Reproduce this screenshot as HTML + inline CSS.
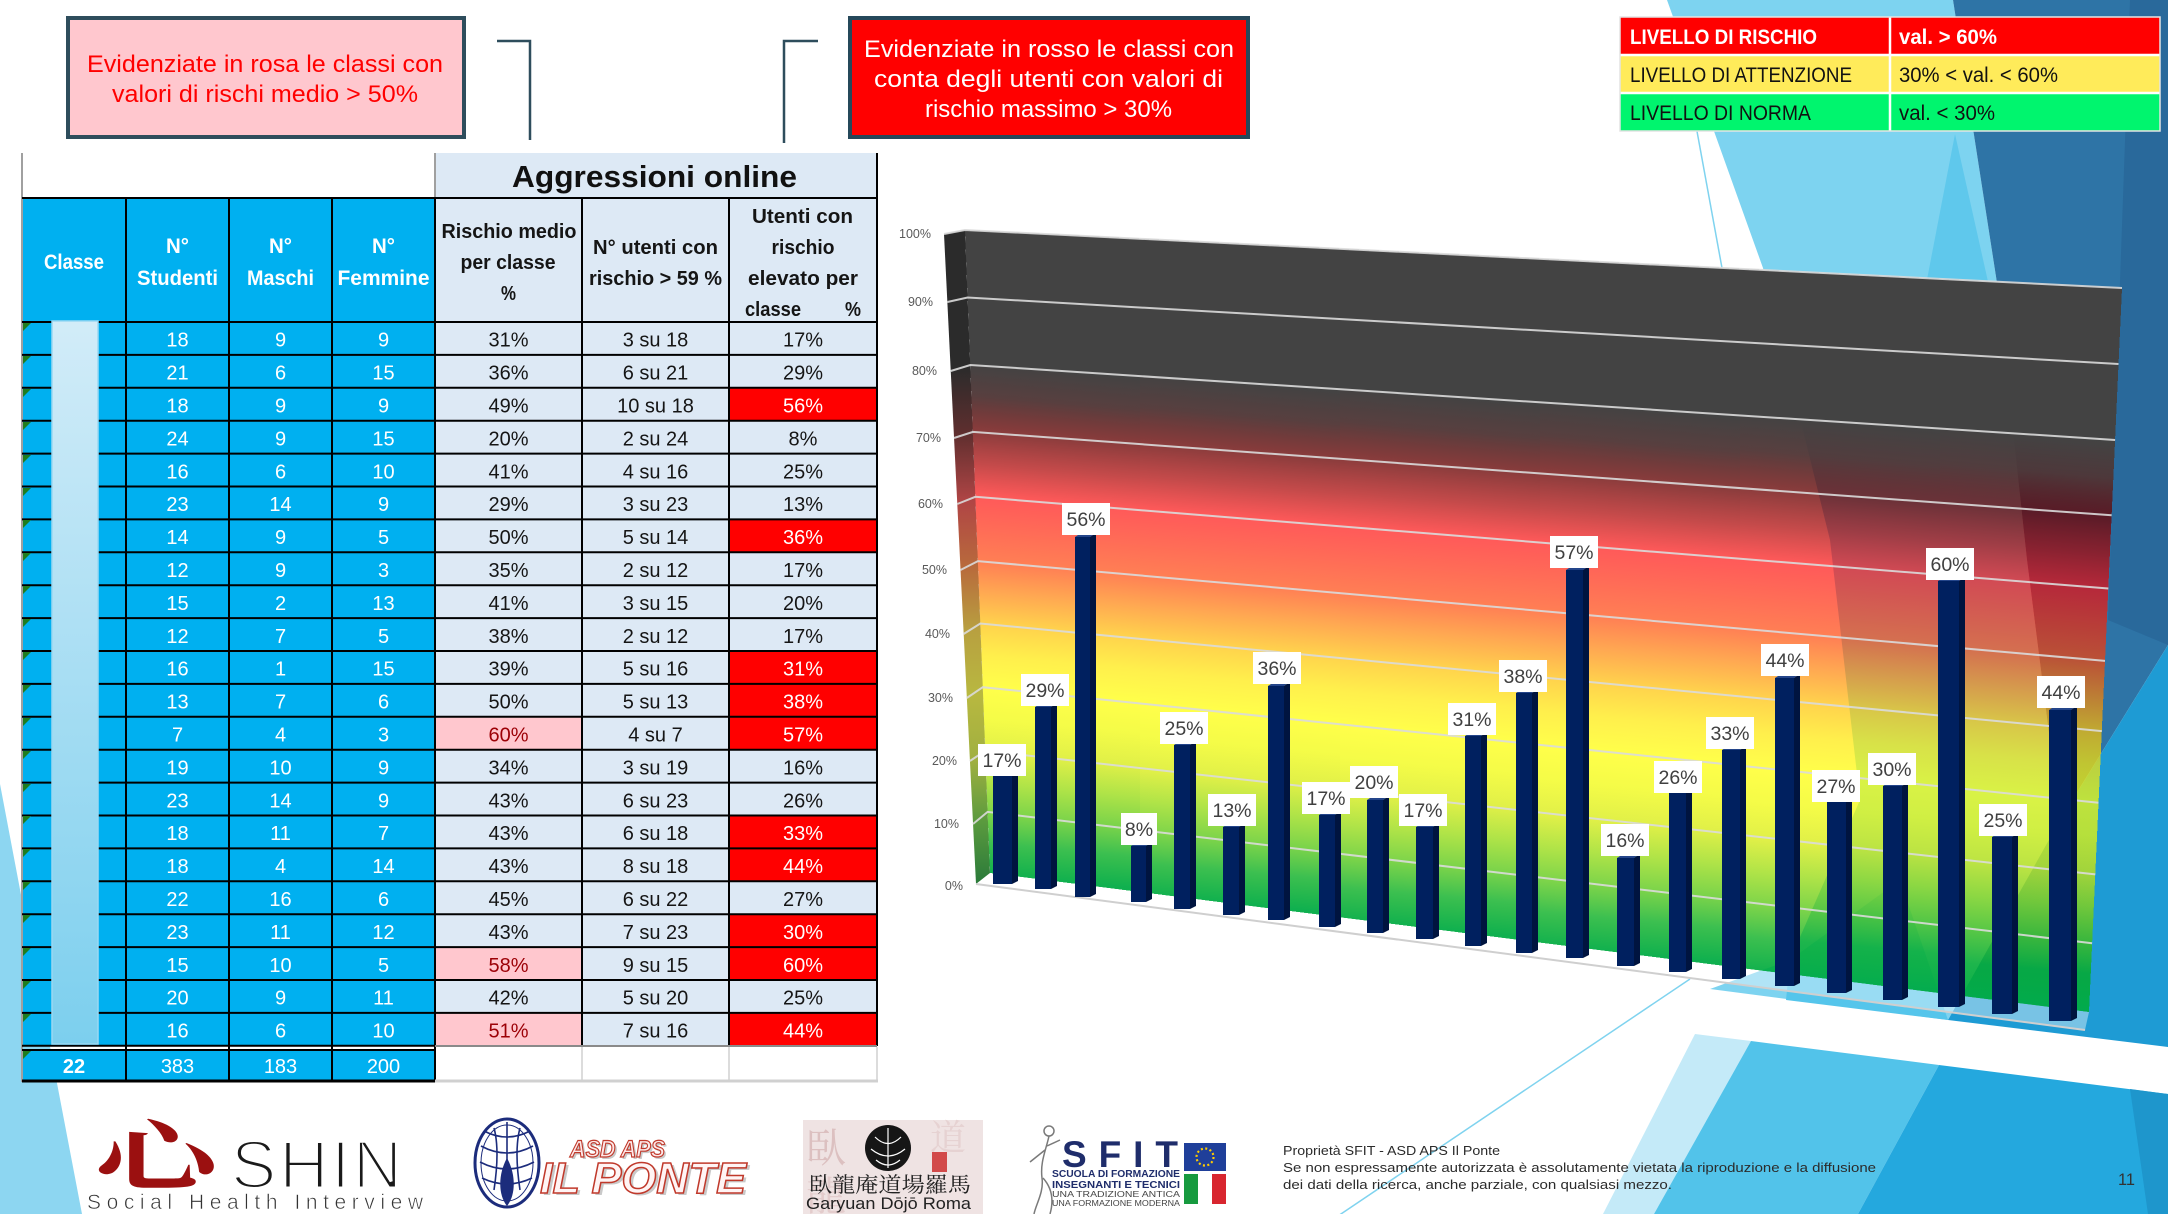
<!DOCTYPE html>
<html><head><meta charset="utf-8">
<style>
html,body{margin:0;padding:0;background:#fff;}
body{width:2168px;height:1214px;overflow:hidden;position:relative;}
svg{position:absolute;left:0;top:0;}
text{font-family:"Liberation Sans",Arial,sans-serif;}
.cjk{font-family:"Liberation Serif","Noto Serif CJK SC","Noto Sans CJK SC",serif;}
</style></head><body>
<svg width="2168" height="1214" viewBox="0 0 2168 1214">
<defs>
<linearGradient id="gw">
 <stop offset="0" stop-color="#434343" stop-opacity="1"/>
 <stop offset="0.21" stop-color="#434343" stop-opacity="1"/>
 <stop offset="0.26" stop-color="#4f3535" stop-opacity="0.95"/>
 <stop offset="0.314" stop-color="#660000" stop-opacity="0.765"/>
 <stop offset="0.365" stop-color="#ac0000" stop-opacity="0.71"/>
 <stop offset="0.415" stop-color="#ff0000" stop-opacity="0.65"/>
 <stop offset="0.465" stop-color="#ff2000" stop-opacity="0.66"/>
 <stop offset="0.515" stop-color="#ff4000" stop-opacity="0.67"/>
 <stop offset="0.563" stop-color="#ff8000" stop-opacity="0.68"/>
 <stop offset="0.612" stop-color="#ffc000" stop-opacity="0.7"/>
 <stop offset="0.66" stop-color="#ffe800" stop-opacity="0.7"/>
 <stop offset="0.711" stop-color="#ffff00" stop-opacity="0.71"/>
 <stop offset="0.76" stop-color="#f0fa00" stop-opacity="0.72"/>
 <stop offset="0.81" stop-color="#d4ea00" stop-opacity="0.72"/>
 <stop offset="0.857" stop-color="#91d900" stop-opacity="0.72"/>
 <stop offset="0.905" stop-color="#46c200" stop-opacity="0.71"/>
 <stop offset="0.95" stop-color="#00ac1a" stop-opacity="0.765"/>
 <stop offset="1" stop-color="#00ab44" stop-opacity="0.94"/>
</linearGradient>
<linearGradient id="w1" href="#gw" gradientUnits="userSpaceOnUse" x1="1060" y1="234.8" x2="1004.8" y2="877.1"/>
<linearGradient id="w2" href="#gw" gradientUnits="userSpaceOnUse" x1="1240" y1="243.8" x2="1183.6" y2="899.7"/>
<linearGradient id="w3" href="#gw" gradientUnits="userSpaceOnUse" x1="1440" y1="253.8" x2="1382.3" y2="924.9"/>
<linearGradient id="w4" href="#gw" gradientUnits="userSpaceOnUse" x1="1640" y1="263.8" x2="1581" y2="950.1"/>
<linearGradient id="w5" href="#gw" gradientUnits="userSpaceOnUse" x1="1840" y1="273.8" x2="1779.7" y2="975.3"/>
<linearGradient id="w6" href="#gw" gradientUnits="userSpaceOnUse" x1="2030" y1="283.4" x2="1968.4" y2="999.3"/>
<linearGradient id="gs" x1="0" y1="0" x2="0" y2="1">
 <stop offset="0" stop-color="#2b2b2b"/>
 <stop offset="0.21" stop-color="#2b2b2b"/>
 <stop offset="0.31" stop-color="#5e2e2e"/>
 <stop offset="0.415" stop-color="#b04545"/>
 <stop offset="0.515" stop-color="#b86a3c"/>
 <stop offset="0.612" stop-color="#b8a040"/>
 <stop offset="0.711" stop-color="#b8b840"/>
 <stop offset="0.81" stop-color="#a0b040"/>
 <stop offset="0.905" stop-color="#5a9a3e"/>
 <stop offset="1" stop-color="#2a7a3a"/>
</linearGradient>
<linearGradient id="gc" x1="0" y1="0" x2="0" y2="1">
 <stop offset="0" stop-color="#d2ecf8"/>
 <stop offset="1" stop-color="#7ccfee"/>
</linearGradient>
</defs>

<!-- background decoration -->
<polygon points="0,784 22,900 82,1214 0,1214" fill="#8dd6f1"/>
<polygon points="1667,0 1953,0 1997,283 2027,560 2060,820 1948,1020 1710,989 1790,960 1860,800 1830,540 1763,268" fill="#7dd3f0"/>
<polygon points="1955,134 2010,380 1900,420" fill="#5fc8ec"/>
<polygon points="1953,0 2168,0 2168,645 2060,820 2027,560 1997,283" fill="#2e74a6"/>
<polygon points="2130,0 2168,0 2168,645 2108,620" fill="#29699b"/>
<polygon points="2168,645 2168,1047 1948,1020 2060,820" fill="#1e9bd4"/>
<polygon points="1790,960 1900,880 1948,1020 1786,1000" fill="#55c5eb"/>
<polygon points="1695,1034 1751,1041 1654,1214 1603,1214" fill="#c4eaf8"/>
<polygon points="1751,1041 1939,1065 1858,1214 1654,1214" fill="#52c3ea"/>
<polygon points="1939,1065 2168,1094 2168,1214 1858,1214" fill="#24a8de"/>
<polygon points="2130,1089 2168,1094 2168,1214 2148,1214" fill="#1e96cc"/>
<line x1="1673" y1="0" x2="1722" y2="268" stroke="#7fd3ef" stroke-width="1.5"/>
<line x1="1690" y1="979" x2="1335" y2="1218" stroke="#7fd3ef" stroke-width="1.5"/>

<!-- chart wall -->
<g shape-rendering="crispEdges">
<polygon points="965,230 1140,238.8 1140,892 990,873" fill="url(#w1)"/>
<polygon points="1140,238.8 1340,248.8 1340,917.3 1140,892" fill="url(#w2)"/>
<polygon points="1340,248.8 1540,258.8 1540,942.6 1340,917.3" fill="url(#w3)"/>
<polygon points="1540,258.8 1740,268.8 1740,967.9 1540,942.6" fill="url(#w4)"/>
<polygon points="1740,268.8 1940,278.8 1940,993.2 1740,967.9" fill="url(#w5)"/>
<polygon points="1940,278.8 2122,288 2089,1012 1940,993.2" fill="url(#w6)"/>
</g>
<polygon points="944,234 965,230 990,873 976,884" fill="url(#gs)"/>
<!-- floor -->
<polygon points="976,884 990,873 2089,1012 2085,1030" fill="#ffffff" fill-opacity="0.4"/>
<line x1="976" y1="884" x2="2085" y2="1030" stroke="#cfcfcf" stroke-width="2"/>
<!-- gridlines -->
<g fill="none" stroke="#dadada" stroke-width="2" stroke-opacity="0.9">
<polyline points="944,234 965,230 2122,288"/>
<polyline points="947.4,302 967.6,297.5 2118.5,364"/>
<polyline points="950.7,371 970.3,365 2115.1,440"/>
<polyline points="954,438 972.9,431.9 2111.6,515.3"/>
<polyline points="957.3,504 975.4,496.8 2108.3,588.5"/>
<polyline points="960.5,570 977.9,561.1 2105,660.9"/>
<polyline points="963.6,634 980.3,623.5 2101.8,731.1"/>
<polyline points="966.8,698 982.8,687.2 2098.5,802.8"/>
<polyline points="969.9,761 985.3,750.8 2095.3,874.4"/>
<polyline points="973,824 987.6,811.9 2092.1,943.2"/>
</g>
<!-- y axis labels -->
<g font-size="12.5" fill="#595959" text-anchor="end">
<text x="931" y="238">100%</text>
<text x="933" y="306">90%</text>
<text x="937" y="375">80%</text>
<text x="941" y="442">70%</text>
<text x="943" y="508">60%</text>
<text x="947" y="574">50%</text>
<text x="950" y="638">40%</text>
<text x="953" y="702">30%</text>
<text x="957" y="765">20%</text>
<text x="959" y="828">10%</text>
<text x="963" y="890">0%</text>
</g>

<!-- bars -->
<g>
<rect x="993" y="776" width="19" height="108" fill="#00205f"/><polygon points="1012,776 1018,772 1018,881 1012,884" fill="#00143f"/><polygon points="993,776 999,772 1018,772 1012,776" fill="#24458a"/>
<rect x="1035" y="707" width="16" height="182" fill="#00205f"/><polygon points="1051,707 1057,703 1057,886 1051,889" fill="#00143f"/><polygon points="1035,707 1041,703 1057,703 1051,707" fill="#24458a"/>
<rect x="1075" y="537" width="15" height="360" fill="#00205f"/><polygon points="1090,537 1096,533 1096,894 1090,897" fill="#00143f"/><polygon points="1075,537 1081,533 1096,533 1090,537" fill="#24458a"/>
<rect x="1131" y="846" width="15" height="56" fill="#00205f"/><polygon points="1146,846 1152,842 1152,899 1146,902" fill="#00143f"/><polygon points="1131,846 1137,842 1152,842 1146,846" fill="#24458a"/>
<rect x="1174" y="745" width="16" height="164" fill="#00205f"/><polygon points="1190,745 1196,741 1196,906 1190,909" fill="#00143f"/><polygon points="1174,745 1180,741 1196,741 1190,745" fill="#24458a"/>
<rect x="1223" y="827" width="16" height="88" fill="#00205f"/><polygon points="1239,827 1245,823 1245,912 1239,915" fill="#00143f"/><polygon points="1223,827 1229,823 1245,823 1239,827" fill="#24458a"/>
<rect x="1268" y="686" width="16" height="234" fill="#00205f"/><polygon points="1284,686 1290,682 1290,917 1284,920" fill="#00143f"/><polygon points="1268,686 1274,682 1290,682 1284,686" fill="#24458a"/>
<rect x="1319" y="815" width="16" height="112" fill="#00205f"/><polygon points="1335,815 1341,811 1341,924 1335,927" fill="#00143f"/><polygon points="1319,815 1325,811 1341,811 1335,815" fill="#24458a"/>
<rect x="1367" y="800" width="16" height="133" fill="#00205f"/><polygon points="1383,800 1389,796 1389,930 1383,933" fill="#00143f"/><polygon points="1367,800 1373,796 1389,796 1383,800" fill="#24458a"/>
<rect x="1416" y="827" width="17" height="112" fill="#00205f"/><polygon points="1433,827 1439,823 1439,936 1433,939" fill="#00143f"/><polygon points="1416,827 1422,823 1439,823 1433,827" fill="#24458a"/>
<rect x="1465" y="736" width="16" height="210" fill="#00205f"/><polygon points="1481,736 1487,732 1487,943 1481,946" fill="#00143f"/><polygon points="1465,736 1471,732 1487,732 1481,736" fill="#24458a"/>
<rect x="1516" y="693" width="16" height="260" fill="#00205f"/><polygon points="1532,693 1538,689 1538,950 1532,953" fill="#00143f"/><polygon points="1516,693 1522,689 1538,689 1532,693" fill="#24458a"/>
<rect x="1566" y="570" width="17" height="388" fill="#00205f"/><polygon points="1583,570 1589,566 1589,955 1583,958" fill="#00143f"/><polygon points="1566,570 1572,566 1589,566 1583,570" fill="#24458a"/>
<rect x="1617" y="858" width="17" height="108" fill="#00205f"/><polygon points="1634,858 1640,854 1640,963 1634,966" fill="#00143f"/><polygon points="1617,858 1623,854 1640,854 1634,858" fill="#24458a"/>
<rect x="1669" y="793" width="17" height="179" fill="#00205f"/><polygon points="1686,793 1692,789 1692,969 1686,972" fill="#00143f"/><polygon points="1669,793 1675,789 1692,789 1686,793" fill="#24458a"/>
<rect x="1722" y="750" width="18" height="229" fill="#00205f"/><polygon points="1740,750 1746,746 1746,976 1740,979" fill="#00143f"/><polygon points="1722,750 1728,746 1746,746 1740,750" fill="#24458a"/>
<rect x="1775" y="678" width="19" height="308" fill="#00205f"/><polygon points="1794,678 1800,674 1800,983 1794,986" fill="#00143f"/><polygon points="1775,678 1781,674 1800,674 1794,678" fill="#24458a"/>
<rect x="1827" y="802" width="19" height="191" fill="#00205f"/><polygon points="1846,802 1852,798 1852,990 1846,993" fill="#00143f"/><polygon points="1827,802 1833,798 1852,798 1846,802" fill="#24458a"/>
<rect x="1883" y="786" width="19" height="214" fill="#00205f"/><polygon points="1902,786 1908,782 1908,997 1902,1000" fill="#00143f"/><polygon points="1883,786 1889,782 1908,782 1902,786" fill="#24458a"/>
<rect x="1938" y="581" width="21" height="426" fill="#00205f"/><polygon points="1959,581 1965,577 1965,1004 1959,1007" fill="#00143f"/><polygon points="1938,581 1944,577 1965,577 1959,581" fill="#24458a"/>
<rect x="1992" y="837" width="20" height="177" fill="#00205f"/><polygon points="2012,837 2018,833 2018,1011 2012,1014" fill="#00143f"/><polygon points="1992,837 1998,833 2018,833 2012,837" fill="#24458a"/>
<rect x="2049" y="710" width="22" height="311" fill="#00205f"/><polygon points="2071,710 2077,706 2077,1018 2071,1021" fill="#00143f"/><polygon points="2049,710 2055,706 2077,706 2071,710" fill="#24458a"/>
</g>

<!-- data labels -->
<g fill="#ffffff">
<rect x="978" y="744" width="48" height="32"/>
<rect x="1021" y="674" width="48" height="32"/>
<rect x="1062" y="503" width="48" height="32"/>
<rect x="1121" y="813" width="36" height="32"/>
<rect x="1160" y="712" width="48" height="32"/>
<rect x="1208" y="794" width="48" height="32"/>
<rect x="1253" y="652" width="48" height="32"/>
<rect x="1302" y="782" width="48" height="32"/>
<rect x="1350" y="766" width="48" height="32"/>
<rect x="1399" y="794" width="48" height="32"/>
<rect x="1448" y="703" width="48" height="32"/>
<rect x="1499" y="660" width="48" height="32"/>
<rect x="1550" y="536" width="48" height="32"/>
<rect x="1601" y="824" width="48" height="32"/>
<rect x="1654" y="761" width="48" height="32"/>
<rect x="1706" y="717" width="48" height="32"/>
<rect x="1761" y="644" width="48" height="32"/>
<rect x="1812" y="770" width="48" height="32"/>
<rect x="1868" y="753" width="48" height="32"/>
<rect x="1926" y="548" width="48" height="32"/>
<rect x="1979" y="804" width="48" height="32"/>
<rect x="2037" y="676" width="48" height="32"/>
</g>
<g font-size="19.5" fill="#404040" text-anchor="middle">
<text x="1002" y="767">17%</text>
<text x="1045" y="697">29%</text>
<text x="1086" y="526">56%</text>
<text x="1139" y="836">8%</text>
<text x="1184" y="735">25%</text>
<text x="1232" y="817">13%</text>
<text x="1277" y="675">36%</text>
<text x="1326" y="805">17%</text>
<text x="1374" y="789">20%</text>
<text x="1423" y="817">17%</text>
<text x="1472" y="726">31%</text>
<text x="1523" y="683">38%</text>
<text x="1574" y="559">57%</text>
<text x="1625" y="847">16%</text>
<text x="1678" y="784">26%</text>
<text x="1730" y="740">33%</text>
<text x="1785" y="667">44%</text>
<text x="1836" y="793">27%</text>
<text x="1892" y="776">30%</text>
<text x="1950" y="571">60%</text>
<text x="2003" y="827">25%</text>
<text x="2061" y="699">44%</text>
</g>

<!-- top boxes -->
<rect x="68" y="18" width="396" height="119" fill="#ffc7ce" stroke="#2e4d5c" stroke-width="4"/>
<text x="87" y="72" font-size="24" fill="#ff0000" textLength="356" lengthAdjust="spacingAndGlyphs">Evidenziate in rosa le classi con</text>
<text x="112" y="102" font-size="24" fill="#ff0000" textLength="306" lengthAdjust="spacingAndGlyphs">valori di rischi medio &gt; 50%</text>
<polyline points="497,41 530,41 530,140" fill="none" stroke="#2e4d5c" stroke-width="2.5"/>
<polyline points="818,41 784,41 784,143" fill="none" stroke="#2e4d5c" stroke-width="2.5"/>
<rect x="850" y="18" width="398" height="119" fill="#ff0000" stroke="#25485a" stroke-width="4"/>
<text x="864" y="57" font-size="24" fill="#ffffff" textLength="370" lengthAdjust="spacingAndGlyphs">Evidenziate in rosso le classi con</text>
<text x="874" y="87" font-size="24" fill="#ffffff" textLength="349" lengthAdjust="spacingAndGlyphs">conta degli utenti con valori di</text>
<text x="925" y="117" font-size="24" fill="#ffffff" textLength="247" lengthAdjust="spacingAndGlyphs">rischio massimo &gt; 30%</text>

<!-- legend -->
<rect x="1620" y="17" width="540" height="38" fill="#ff0000"/>
<rect x="1620" y="55" width="540" height="38" fill="#ffeb5a"/>
<rect x="1620" y="93" width="540" height="38" fill="#00f56e"/>
<g stroke="#ffffff" stroke-width="2.5">
<line x1="1620" y1="55" x2="2160" y2="55"/>
<line x1="1620" y1="93" x2="2160" y2="93"/>
<line x1="1890" y1="17" x2="1890" y2="131"/>
</g>
<rect x="1620" y="17" width="540" height="114" fill="none" stroke="#e4e4e4" stroke-width="1.5"/>
<g font-size="21">
<text x="1630" y="44" fill="#ffffff" font-weight="bold" textLength="187" lengthAdjust="spacingAndGlyphs">LIVELLO DI RISCHIO</text>
<text x="1899" y="44" fill="#ffffff" font-weight="bold" textLength="98" lengthAdjust="spacingAndGlyphs">val. &gt; 60%</text>
<text x="1630" y="82" fill="#111" textLength="222" lengthAdjust="spacingAndGlyphs">LIVELLO DI ATTENZIONE</text>
<text x="1899" y="82" fill="#111" textLength="159" lengthAdjust="spacingAndGlyphs">30% &lt; val. &lt; 60%</text>
<text x="1630" y="120" fill="#111" textLength="181" lengthAdjust="spacingAndGlyphs">LIVELLO DI NORMA</text>
<text x="1899" y="120" fill="#111" textLength="96" lengthAdjust="spacingAndGlyphs">val. &lt; 30%</text>
</g>

<!-- TABLE -->
<rect x="435" y="153" width="442" height="45" fill="#dde9f5"/>
<rect x="22" y="198" width="413" height="848" fill="#00b0f0"/>
<rect x="435" y="198" width="442" height="848" fill="#dde9f5"/>
<rect x="22" y="1049" width="413" height="32" fill="#00b0f0"/>
<!-- red cells -->
<g fill="#ff0000">
<rect x="729" y="387.8" width="148" height="32.9"/>
<rect x="729" y="519.4" width="148" height="32.9"/>
<rect x="729" y="651" width="148" height="65.8"/>
<rect x="729" y="716.8" width="148" height="32.9"/>
<rect x="729" y="815.5" width="148" height="65.8"/>
<rect x="729" y="914.2" width="148" height="65.8"/>
<rect x="729" y="1012.9" width="148" height="32.9"/>
</g>
<g fill="#ffc7ce">
<rect x="435" y="716.8" width="147" height="32.9"/>
<rect x="435" y="947.1" width="147" height="32.9"/>
<rect x="435" y="1012.9" width="147" height="32.9"/>
</g>
<!-- grid lines -->
<line x1="22" y1="153" x2="22" y2="1082" stroke="#a0a0a0" stroke-width="2"/>
<line x1="435" y1="153" x2="435" y2="198" stroke="#a0a0a0" stroke-width="2"/>
<g stroke="#000" stroke-width="2">
<line x1="22" y1="198" x2="877" y2="198"/>
<line x1="22" y1="322" x2="877" y2="322"/>
<line x1="22" y1="354.9" x2="877" y2="354.9"/>
<line x1="22" y1="387.8" x2="877" y2="387.8"/>
<line x1="22" y1="420.7" x2="877" y2="420.7"/>
<line x1="22" y1="453.6" x2="877" y2="453.6"/>
<line x1="22" y1="486.5" x2="877" y2="486.5"/>
<line x1="22" y1="519.4" x2="877" y2="519.4"/>
<line x1="22" y1="552.3" x2="877" y2="552.3"/>
<line x1="22" y1="585.2" x2="877" y2="585.2"/>
<line x1="22" y1="618.1" x2="877" y2="618.1"/>
<line x1="22" y1="651" x2="877" y2="651"/>
<line x1="22" y1="683.9" x2="877" y2="683.9"/>
<line x1="22" y1="716.8" x2="877" y2="716.8"/>
<line x1="22" y1="749.7" x2="877" y2="749.7"/>
<line x1="22" y1="782.6" x2="877" y2="782.6"/>
<line x1="22" y1="815.5" x2="877" y2="815.5"/>
<line x1="22" y1="848.4" x2="877" y2="848.4"/>
<line x1="22" y1="881.3" x2="877" y2="881.3"/>
<line x1="22" y1="914.2" x2="877" y2="914.2"/>
<line x1="22" y1="947.1" x2="877" y2="947.1"/>
<line x1="22" y1="980" x2="877" y2="980"/>
<line x1="22" y1="1012.9" x2="877" y2="1012.9"/>
<line x1="22" y1="1045.8" x2="435" y2="1045.8"/>
<line x1="22" y1="1050" x2="435" y2="1050"/>
<line x1="126" y1="198" x2="126" y2="1081"/>
<line x1="229" y1="198" x2="229" y2="1081"/>
<line x1="332" y1="198" x2="332" y2="1081"/>
<line x1="435" y1="198" x2="435" y2="1081"/>
<line x1="582" y1="198" x2="582" y2="1046"/>
<line x1="729" y1="198" x2="729" y2="1046"/>
<line x1="877" y1="153" x2="877" y2="1046"/>
</g>
<line x1="435" y1="1046" x2="877" y2="1046" stroke="#8a8a8a" stroke-width="2"/>
<g stroke="#d0d0d0" stroke-width="1.5">
<line x1="582" y1="1047" x2="582" y2="1081"/>
<line x1="729" y1="1047" x2="729" y2="1081"/>
<line x1="877" y1="1047" x2="877" y2="1081"/>
</g>
<line x1="435" y1="1081" x2="878" y2="1081" stroke="#d0d0d0" stroke-width="3"/>
<line x1="22" y1="1081" x2="435" y2="1081" stroke="#000" stroke-width="3"/>
<!-- classe bar -->
<rect x="52" y="321" width="46" height="723" fill="url(#gc)" stroke="#9ad8f2" stroke-width="1.5"/>
<!-- green triangles -->
<g fill="#1f7d1f">
<polygon points="23,323 31,323 23,331"/><polygon points="23,356 31,356 23,364"/><polygon points="23,389 31,389 23,397"/><polygon points="23,422 31,422 23,430"/><polygon points="23,455 31,455 23,463"/><polygon points="23,488 31,488 23,496"/><polygon points="23,520 31,520 23,528"/><polygon points="23,553 31,553 23,561"/><polygon points="23,586 31,586 23,594"/><polygon points="23,619 31,619 23,627"/><polygon points="23,652 31,652 23,660"/><polygon points="23,685 31,685 23,693"/><polygon points="23,718 31,718 23,726"/><polygon points="23,751 31,751 23,759"/><polygon points="23,784 31,784 23,792"/><polygon points="23,816 31,816 23,824"/><polygon points="23,849 31,849 23,857"/><polygon points="23,882 31,882 23,890"/><polygon points="23,915 31,915 23,923"/><polygon points="23,948 31,948 23,956"/><polygon points="23,981 31,981 23,989"/><polygon points="23,1014 31,1014 23,1022"/><polygon points="23,1051 31,1051 23,1059"/>
</g>
<!-- header texts -->
<text x="512" y="187" font-size="31" font-weight="bold" fill="#111" textLength="285" lengthAdjust="spacingAndGlyphs">Aggressioni online</text>
<g font-size="21" font-weight="bold" fill="#ffffff" text-anchor="middle">
<text x="74" y="269" textLength="60" lengthAdjust="spacingAndGlyphs">Classe</text>
<text x="177.5" y="253" textLength="23" lengthAdjust="spacingAndGlyphs">N°</text>
<text x="177.5" y="285" textLength="81" lengthAdjust="spacingAndGlyphs">Studenti</text>
<text x="280.5" y="253" textLength="23" lengthAdjust="spacingAndGlyphs">N°</text>
<text x="280.5" y="285" textLength="67" lengthAdjust="spacingAndGlyphs">Maschi</text>
<text x="383.5" y="253" textLength="23" lengthAdjust="spacingAndGlyphs">N°</text>
<text x="383.5" y="285" textLength="92" lengthAdjust="spacingAndGlyphs">Femmine</text>
</g>
<g font-size="20" font-weight="bold" fill="#151515" text-anchor="middle">
<text x="509" y="238" textLength="135" lengthAdjust="spacingAndGlyphs">Rischio medio</text>
<text x="508" y="269" textLength="95" lengthAdjust="spacingAndGlyphs">per classe</text>
<text x="508.5" y="300" textLength="15" lengthAdjust="spacingAndGlyphs">%</text>
<text x="655.5" y="254" textLength="125" lengthAdjust="spacingAndGlyphs">N° utenti con</text>
<text x="655.5" y="285" textLength="133" lengthAdjust="spacingAndGlyphs">rischio &gt; 59 %</text>
<text x="802.5" y="223" textLength="101" lengthAdjust="spacingAndGlyphs">Utenti con</text>
<text x="803" y="254" textLength="63" lengthAdjust="spacingAndGlyphs">rischio</text>
<text x="803" y="285" textLength="110" lengthAdjust="spacingAndGlyphs">elevato per</text>
<text x="773" y="316" textLength="56" lengthAdjust="spacingAndGlyphs">classe</text>
<text x="853" y="316" textLength="16" lengthAdjust="spacingAndGlyphs">%</text>
</g>
<!-- data texts: blue columns -->
<g font-size="20" fill="#ffffff" text-anchor="middle">
<text x="177.5" y="346.7">18</text><text x="280.5" y="346.7">9</text><text x="383.5" y="346.7">9</text>
<text x="177.5" y="379.6">21</text><text x="280.5" y="379.6">6</text><text x="383.5" y="379.6">15</text>
<text x="177.5" y="412.5">18</text><text x="280.5" y="412.5">9</text><text x="383.5" y="412.5">9</text>
<text x="177.5" y="445.4">24</text><text x="280.5" y="445.4">9</text><text x="383.5" y="445.4">15</text>
<text x="177.5" y="478.3">16</text><text x="280.5" y="478.3">6</text><text x="383.5" y="478.3">10</text>
<text x="177.5" y="511.2">23</text><text x="280.5" y="511.2">14</text><text x="383.5" y="511.2">9</text>
<text x="177.5" y="544.1">14</text><text x="280.5" y="544.1">9</text><text x="383.5" y="544.1">5</text>
<text x="177.5" y="577">12</text><text x="280.5" y="577">9</text><text x="383.5" y="577">3</text>
<text x="177.5" y="609.9">15</text><text x="280.5" y="609.9">2</text><text x="383.5" y="609.9">13</text>
<text x="177.5" y="642.8">12</text><text x="280.5" y="642.8">7</text><text x="383.5" y="642.8">5</text>
<text x="177.5" y="675.7">16</text><text x="280.5" y="675.7">1</text><text x="383.5" y="675.7">15</text>
<text x="177.5" y="708.6">13</text><text x="280.5" y="708.6">7</text><text x="383.5" y="708.6">6</text>
<text x="177.5" y="741.5">7</text><text x="280.5" y="741.5">4</text><text x="383.5" y="741.5">3</text>
<text x="177.5" y="774.4">19</text><text x="280.5" y="774.4">10</text><text x="383.5" y="774.4">9</text>
<text x="177.5" y="807.3">23</text><text x="280.5" y="807.3">14</text><text x="383.5" y="807.3">9</text>
<text x="177.5" y="840.2">18</text><text x="280.5" y="840.2">11</text><text x="383.5" y="840.2">7</text>
<text x="177.5" y="873.1">18</text><text x="280.5" y="873.1">4</text><text x="383.5" y="873.1">14</text>
<text x="177.5" y="906">22</text><text x="280.5" y="906">16</text><text x="383.5" y="906">6</text>
<text x="177.5" y="938.9">23</text><text x="280.5" y="938.9">11</text><text x="383.5" y="938.9">12</text>
<text x="177.5" y="971.8">15</text><text x="280.5" y="971.8">10</text><text x="383.5" y="971.8">5</text>
<text x="177.5" y="1004.7">20</text><text x="280.5" y="1004.7">9</text><text x="383.5" y="1004.7">11</text>
<text x="177.5" y="1037.6">16</text><text x="280.5" y="1037.6">6</text><text x="383.5" y="1037.6">10</text>
<text x="74" y="1073" font-weight="bold">22</text>
<text x="177.5" y="1073">383</text><text x="280.5" y="1073">183</text><text x="383.5" y="1073">200</text>
</g>
<!-- data texts: light columns -->
<g font-size="20" fill="#151515" text-anchor="middle">
<text x="508.5" y="346.7">31%</text><text x="655.5" y="346.7">3 su 18</text><text x="803" y="346.7">17%</text>
<text x="508.5" y="379.6">36%</text><text x="655.5" y="379.6">6 su 21</text><text x="803" y="379.6">29%</text>
<text x="508.5" y="412.5">49%</text><text x="655.5" y="412.5">10 su 18</text>
<text x="508.5" y="445.4">20%</text><text x="655.5" y="445.4">2 su 24</text><text x="803" y="445.4">8%</text>
<text x="508.5" y="478.3">41%</text><text x="655.5" y="478.3">4 su 16</text><text x="803" y="478.3">25%</text>
<text x="508.5" y="511.2">29%</text><text x="655.5" y="511.2">3 su 23</text><text x="803" y="511.2">13%</text>
<text x="508.5" y="544.1">50%</text><text x="655.5" y="544.1">5 su 14</text>
<text x="508.5" y="577">35%</text><text x="655.5" y="577">2 su 12</text><text x="803" y="577">17%</text>
<text x="508.5" y="609.9">41%</text><text x="655.5" y="609.9">3 su 15</text><text x="803" y="609.9">20%</text>
<text x="508.5" y="642.8">38%</text><text x="655.5" y="642.8">2 su 12</text><text x="803" y="642.8">17%</text>
<text x="508.5" y="675.7">39%</text><text x="655.5" y="675.7">5 su 16</text>
<text x="508.5" y="708.6">50%</text><text x="655.5" y="708.6">5 su 13</text>
<text x="655.5" y="741.5">4 su 7</text>
<text x="508.5" y="774.4">34%</text><text x="655.5" y="774.4">3 su 19</text><text x="803" y="774.4">16%</text>
<text x="508.5" y="807.3">43%</text><text x="655.5" y="807.3">6 su 23</text><text x="803" y="807.3">26%</text>
<text x="508.5" y="840.2">43%</text><text x="655.5" y="840.2">6 su 18</text>
<text x="508.5" y="873.1">43%</text><text x="655.5" y="873.1">8 su 18</text>
<text x="508.5" y="906">45%</text><text x="655.5" y="906">6 su 22</text><text x="803" y="906">27%</text>
<text x="508.5" y="938.9">43%</text><text x="655.5" y="938.9">7 su 23</text>
<text x="655.5" y="971.8">9 su 15</text>
<text x="508.5" y="1004.7">42%</text><text x="655.5" y="1004.7">5 su 20</text><text x="803" y="1004.7">25%</text>
<text x="655.5" y="1037.6">7 su 16</text>
</g>
<g font-size="20" fill="#9c0006" text-anchor="middle">
<text x="508.5" y="741.5">60%</text>
<text x="508.5" y="971.8">58%</text>
<text x="508.5" y="1037.6">51%</text>
</g>
<g font-size="20" fill="#ffffff" text-anchor="middle">
<text x="803" y="412.5">56%</text>
<text x="803" y="544.1">36%</text>
<text x="803" y="675.7">31%</text>
<text x="803" y="708.6">38%</text>
<text x="803" y="741.5">57%</text>
<text x="803" y="840.2">33%</text>
<text x="803" y="873.1">44%</text>
<text x="803" y="938.9">30%</text>
<text x="803" y="971.8">60%</text>
<text x="803" y="1037.6">44%</text>
</g>

<!-- FOOTER LOGOS -->
<!-- SHIN -->
<text class="cjk" x="95" y="1184" font-size="78" font-weight="bold" fill="#9b1010" textLength="122" lengthAdjust="spacingAndGlyphs">心</text>
<text x="231" y="1188" font-size="68" fill="#1a1a1a" stroke="#ffffff" stroke-width="3" textLength="171" lengthAdjust="spacing">SHIN</text>
<text x="87" y="1209" font-size="21" fill="#333" stroke="#ffffff" stroke-width="0.6" textLength="336" lengthAdjust="spacing">Social Health Interview</text>
<!-- IL PONTE -->
<ellipse cx="507" cy="1163" rx="32" ry="44" fill="#fff" stroke="#1c2c7c" stroke-width="3"/>
<ellipse cx="507" cy="1163" rx="26" ry="38" fill="none" stroke="#1c2c7c" stroke-width="1"/>
<g fill="none" stroke="#1c2c7c" stroke-width="1.6">
<path d="M484,1131 Q507,1143 530,1131"/>
<path d="M481,1146 Q507,1160 533,1146"/>
<path d="M480,1162 Q507,1176 534,1162"/>
<path d="M482,1178 Q507,1190 532,1178"/>
<path d="M507,1122 L507,1160"/>
<path d="M494,1128 Q500,1150 494,1190"/>
<path d="M520,1128 Q514,1150 520,1190"/>
</g>
<path d="M507,1158 C516,1174 516,1195 507,1206 C498,1195 498,1174 507,1158Z" fill="#1c2c7c"/>
<g font-weight="bold" font-style="italic">
<text x="572" y="1159" font-size="24" fill="#c9c9c9" textLength="95" lengthAdjust="spacingAndGlyphs">ASD APS</text>
<text x="570" y="1157" font-size="24" fill="#fde8e8" stroke="#c0392b" stroke-width="1.2" textLength="95" lengthAdjust="spacingAndGlyphs">ASD APS</text>
<text x="543" y="1195" font-size="44" fill="#c9c9c9" textLength="206" lengthAdjust="spacingAndGlyphs">IL PONTE</text>
<text x="540" y="1193" font-size="44" fill="#fff4f4" stroke="#c0392b" stroke-width="1.5" textLength="206" lengthAdjust="spacingAndGlyphs">IL PONTE</text>
</g>
<!-- Garyuan -->
<rect x="803" y="1120" width="180" height="94" fill="#efe3e3"/>
<text class="cjk" x="806" y="1162" font-size="40" fill="#dcc0c0">臥</text>
<text class="cjk" x="806" y="1210" font-size="40" fill="#e3cccc">龍</text>
<text class="cjk" x="930" y="1150" font-size="36" fill="#e6d2d2">道</text>
<circle cx="888" cy="1148" r="23" fill="#161616"/>
<g fill="none" stroke="#ffffff" stroke-width="1.2">
<path d="M888,1128 L888,1168"/>
<path d="M875,1137 Q888,1150 901,1137"/>
<path d="M871,1149 Q888,1163 905,1149"/>
<path d="M876,1160 Q888,1170 900,1160"/>
</g>
<rect x="932" y="1152" width="15" height="20" fill="#d24a4a"/>
<text class="cjk" x="809" y="1192" font-size="21" fill="#222" textLength="162" lengthAdjust="spacingAndGlyphs">臥龍庵道場羅馬</text>
<text x="806" y="1209" font-size="17" fill="#222" textLength="165" lengthAdjust="spacingAndGlyphs">Garyuan Dōjō Roma</text>
<!-- SFIT -->
<g fill="none" stroke="#7a7a7a" stroke-width="1.5">
<circle cx="1049" cy="1131" r="5"/>
<path d="M1049,1136 C1046,1150 1040,1162 1042,1178 C1044,1192 1036,1204 1034,1214"/>
<path d="M1047,1146 L1060,1140"/>
<path d="M1043,1178 C1052,1188 1054,1200 1050,1214"/>
<path d="M1045,1150 L1030,1162"/>
</g>
<text x="1062" y="1167" font-size="37" font-weight="bold" fill="#1f2d6b" textLength="116" lengthAdjust="spacing">SFIT</text>
<text x="1052" y="1177" font-size="10.5" font-weight="bold" fill="#1f2d6b" textLength="128" lengthAdjust="spacingAndGlyphs">SCUOLA DI FORMAZIONE</text>
<text x="1052" y="1188" font-size="10.5" font-weight="bold" fill="#1f2d6b" textLength="128" lengthAdjust="spacingAndGlyphs">INSEGNANTI E TECNICI</text>
<text x="1052" y="1197" font-size="8" fill="#444" textLength="128" lengthAdjust="spacingAndGlyphs">UNA TRADIZIONE ANTICA</text>
<text x="1052" y="1206" font-size="8" fill="#444" textLength="128" lengthAdjust="spacingAndGlyphs">UNA FORMAZIONE MODERNA</text>
<rect x="1184" y="1143" width="42" height="28" fill="#1f3f9a"/>
<circle cx="1205" cy="1157" r="8.5" fill="none" stroke="#ffcc00" stroke-width="2.2" stroke-dasharray="2 2.45"/>
<rect x="1184" y="1174" width="14" height="30" fill="#179a3f"/>
<rect x="1198" y="1174" width="14" height="30" fill="#ffffff"/>
<rect x="1212" y="1174" width="14" height="30" fill="#d8262f"/>
<!-- footer text -->
<g font-size="13" fill="#2b2b2b">
<text x="1283" y="1155" textLength="217" lengthAdjust="spacingAndGlyphs">Proprietà SFIT - ASD APS Il Ponte</text>
<text x="1283" y="1172" textLength="593" lengthAdjust="spacingAndGlyphs">Se non espressamente autorizzata è assolutamente vietata la riproduzione e la diffusione</text>
<text x="1283" y="1189" textLength="389" lengthAdjust="spacingAndGlyphs">dei dati della ricerca, anche parziale, con qualsiasi mezzo.</text>
</g>
<text x="2118" y="1185" font-size="17" fill="#333" textLength="17" lengthAdjust="spacingAndGlyphs">11</text>
</svg>
</body></html>
